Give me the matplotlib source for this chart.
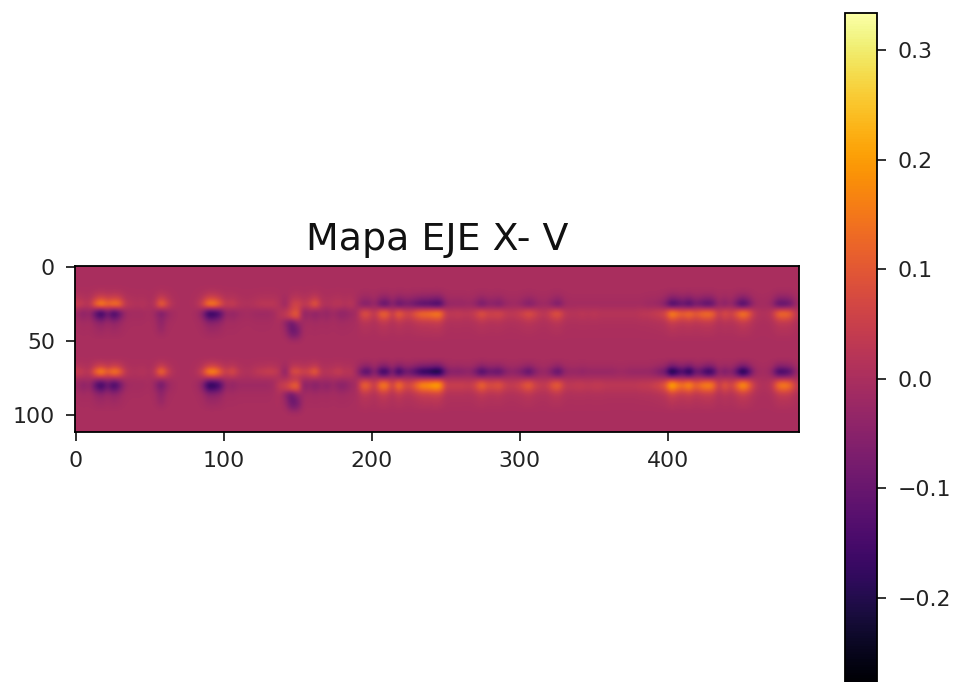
#!/usr/bin/env python3
import numpy as np
import matplotlib
matplotlib.use("Agg")
import matplotlib.pyplot as plt

# Amplitudes read per 4-sample column, 122 columns across the map
b1_upper = [.05,.03,.02,.13,.19,.12,.16,.14,.03,.02,
            .01,.02,0,.02,.14,.06,.01,0,0,0,
            .01,.06,.17,.17,.10,.03,.05,.02,.01,.01,
            .02,.03,.03,.03,.01,-.03,.05,.07,.03,.05,
            .12,.02,.01,.02,.03,.01,.03,-.01,-.06,-.06,
            -.02,-.10,-.12,-.04,-.12,-.08,-.08,-.11,-.13,-.13,
            -.15,-.16,-.04,-.03,-.03,-.03,-.02,-.04,-.09,-.05,
            -.05,-.07,-.03,-.02,-.02,-.04,-.07,-.04,-.02,-.02,
            -.05,-.08,-.02,-.01,-.01,-.01,-.01,-.01,-.01,-.01,
            -.01,-.01,-.01,-.01,-.01,-.01,-.02,-.02,-.03,-.06,
            -.16,-.13,-.10,-.15,-.08,-.10,-.13,-.11,-.02,-.06,
            -.02,-.09,-.16,-.10,-.02,-.01,-.01,-.03,-.12,-.12,-.10,-.02]
b1_lower = [-.02,-.05,-.02,-.12,-.19,-.07,-.17,-.10,-.02,-.01,
            -.01,-.01,0,-.02,-.08,-.03,-.01,0,0,0,
            -.01,-.05,-.19,-.18,-.13,-.02,-.04,-.02,-.01,-.01,
            -.02,-.02,-.02,-.01,.02,.03,.08,.12,-.05,-.02,
            -.05,-.02,-.04,-.01,-.04,-.04,-.02,-.01,.09,.08,
            .02,.12,.13,.03,.13,.07,.06,.11,.14,.14,
            .16,.17,.04,.03,.04,.03,.03,.05,.10,.06,
            .06,.07,.04,.03,.04,.06,.09,.06,.03,.03,
            .08,.10,.03,.02,.02,.03,.02,.03,.02,.02,
            .02,.02,.02,.02,.02,.03,.03,.04,.05,.07,
            .19,.14,.11,.15,.10,.13,.15,.13,.03,.09,
            .05,.10,.17,.12,.03,.01,.01,.03,.13,.14,.12,.03]
b2_upper = [.05,.03,.02,.13,.19,.10,.17,.13,.03,.01,
            .01,.02,0,.03,.16,.06,.01,0,0,0,
            .01,.06,.18,.19,.11,.04,.09,.03,.01,.01,
            .03,.04,.05,.05,.02,-.06,.08,.09,.05,.07,
            .13,.02,.02,.03,.05,.02,.03,-.02,-.12,-.14,
            -.03,-.17,-.18,-.05,-.20,-.10,-.10,-.15,-.20,-.20,
            -.24,-.24,-.08,-.05,-.06,-.05,-.04,-.08,-.16,-.10,
            -.10,-.12,-.06,-.04,-.05,-.08,-.13,-.06,-.03,-.03,
            -.08,-.13,-.04,-.03,-.03,-.04,-.03,-.03,-.03,-.03,
            -.03,-.02,-.02,-.03,-.03,-.03,-.03,-.04,-.07,-.09,
            -.26,-.18,-.14,-.24,-.10,-.11,-.19,-.17,-.03,-.08,
            -.04,-.12,-.25,-.15,-.03,-.01,-.01,-.04,-.17,-.16,-.13,-.03]
b2_lower = [-.02,-.05,-.02,-.12,-.18,-.08,-.17,-.10,-.02,-.01,
            -.01,-.01,0,-.03,-.10,-.03,-.01,0,0,0,
            -.01,-.05,-.20,-.19,-.14,-.02,-.04,-.02,-.02,-.02,
            -.02,-.02,-.02,-.01,.04,.05,.10,.13,-.06,-.03,
            -.06,-.03,-.05,-.02,-.05,-.05,-.02,-.01,.13,.11,
            .03,.16,.16,.04,.17,.08,.07,.13,.19,.19,
            .22,.22,.05,.05,.05,.05,.04,.07,.14,.08,
            .08,.10,.05,.04,.05,.08,.12,.06,.04,.04,
            .10,.12,.04,.03,.04,.04,.03,.04,.04,.03,
            .03,.03,.03,.03,.03,.04,.04,.05,.07,.10,
            .25,.17,.14,.20,.11,.15,.18,.16,.03,.11,
            .05,.12,.21,.14,.04,.01,.01,.03,.15,.17,.14,.04]

# How the band amplitudes fade away from the main rows
upper_rows_b1 = [5, 6, 7, 8, 9]
upper_fade = [.06, .22, .55, 1.0, .40]
lower_rows_b1 = [9, 10, 11, 12, 13, 14, 15]
lower_fade = [.40, 1.0, .70, .30, .16, .10, .05]
upper_rows_b2 = [21, 22, 23, 24]
upper_fade_b2 = [.14, .40, 1.0, .45]
lower_rows_b2 = [25, 26, 27, 28, 29, 30, 31]

# Narrow streaks hanging under the bands: x near 58, 142, 146, 150
streak_cols = [14, 35, 36, 37]
streak_rows_b1 = [12, 13, 14, 15, 16]
streak_rows_b2 = [28, 29, 30, 31, 32]
streak_vals = [[-.05, -.04, -.03, -.01, 0],
               [-.04, -.03, -.02, -.01, 0],
               [-.09, -.11, -.10, -.07, -.02],
               [-.02, -.06, -.08, -.06, -.02]]

vmin, vmax = -0.28, 0.3338
n_rows, n_cols = 37, 122

Z = np.zeros((n_rows, n_cols))
for r, f in zip(upper_rows_b1, upper_fade):
    Z[r] += np.array(b1_upper) * f
for r, f in zip(lower_rows_b1, lower_fade):
    Z[r] += np.array(b1_lower) * f
for r, f in zip(upper_rows_b2, upper_fade_b2):
    Z[r] += np.array(b2_upper) * f
for r, f in zip(lower_rows_b2, lower_fade):
    Z[r] += np.array(b2_lower) * f
for rows in (streak_rows_b1, streak_rows_b2):
    for col, vals in zip(streak_cols, streak_vals):
        Z[rows, col] = vals

W, H = 958, 682
ink = "#222222"
fig = plt.figure(figsize=(W / 100, H / 100), dpi=100)
ax = fig.add_axes([75 / W, 1 - 432 / H, 724 / W, 166 / H])
im = ax.imshow(Z, cmap="inferno", vmin=vmin, vmax=vmax, aspect="auto",
               interpolation="bicubic", extent=(-0.5, 488.5, 111.5, -0.5))
ax.set_xticks([0, 100, 200, 300, 400])
ax.set_yticks([0, 50, 100])
ax.tick_params(labelsize=15.8, length=6.5, width=1.3, color=ink, labelcolor=ink)
ax.tick_params(axis="x", pad=7.5)
ax.tick_params(axis="y", pad=8)
for s in ax.spines.values():
    s.set_linewidth(1.3)
ax.set_title("Mapa EJE X- V", fontsize=27.3, pad=11.5, color="#111111")

# colorbar runs past the bottom edge of the picture, as in the original crop
cax_bottom = 13 + (vmax - vmin) * 1096
cax = fig.add_axes([845 / W, 1 - cax_bottom / H, 32 / W, (cax_bottom - 13) / H])
cb = fig.colorbar(im, cax=cax)
cb.set_ticks([-0.2, -0.1, 0.0, 0.1, 0.2, 0.3])
cb.ax.tick_params(labelsize=15.8, length=6.5, width=1.3, pad=8.5, color=ink, labelcolor=ink)
cb.outline.set_linewidth(1.3)

fig.savefig("out.png", dpi=100)
